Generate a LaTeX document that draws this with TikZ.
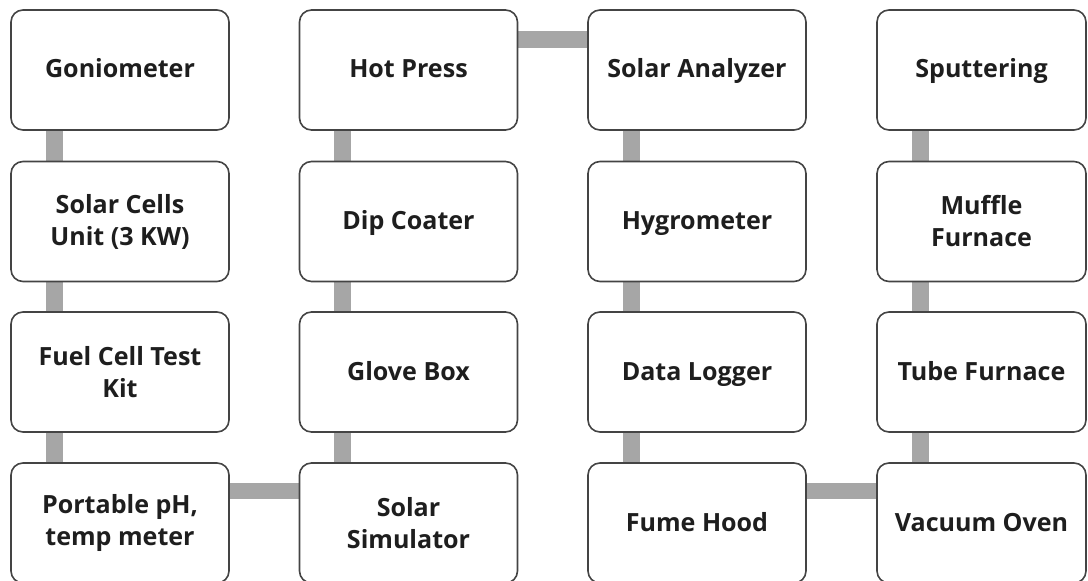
\documentclass[tikz,border=0pt]{standalone}
\usepackage{fontspec}
\setmainfont{Open Sans}
\usetikzlibrary{backgrounds}
\definecolor{boxline}{HTML}{444444}
\definecolor{linkgray}{HTML}{A6A6A6}
\definecolor{labelink}{HTML}{1E1E1E}
\tikzset{
  unit/.style={draw=boxline, line width=1.2pt, rounded corners=9pt, fill=white,
    minimum width=163.5pt, minimum height=90pt, inner sep=0pt, align=center,
    text=labelink, font=\fontsize{18.8}{24}\selectfont\bfseries},
  oneline/.style={text height=14pt, text depth=2pt},
  narrow/.style={minimum width=156.75pt},
  link/.style={draw=linkgray, line width=12.5pt}
}
\begin{document}
\begin{tikzpicture}[x=0.75pt, y=-0.75pt]
\useasboundingbox (0,0) rectangle (1088,581);

% Column 1
\node[unit, oneline] (gonio) at (120,70) {Goniometer};
\node[unit] (cells) at (120,221.5) {Solar Cells\\Unit (3 KW)};
\node[unit] (fuel) at (120,372) {Fuel Cell Test\\Kit};
\node[unit] (phmeter) at (120,523) {Portable pH,\\temp meter};

% Column 2
\node[unit, oneline] (press) at (408.5,70) {Hot Press};
\node[unit, oneline] (dip) at (408.5,221.5) {Dip Coater};
\node[unit, oneline] (glove) at (408.5,372) {Glove Box};
\node[unit] (simul) at (408.5,523) {Solar\\Simulator};

% Column 3
\node[unit, oneline] (analyz) at (697,70) {Solar Analyzer};
\node[unit, oneline] (hygro) at (697,221.5) {Hygrometer};
\node[unit, oneline] (logger) at (697,372) {Data Logger};
\node[unit, oneline] (hood) at (697,523) {Fume Hood};

% Column 4
\node[unit, oneline, narrow] (sputter) at (981.5,70) {Sputtering};
\node[unit, narrow] (muffle) at (981.5,221.5) {Muffle\\Furnace};
\node[unit, oneline, narrow] (tube) at (981.5,372) {Tube Furnace};
\node[unit, oneline, narrow] (oven) at (981.5,523) {Vacuum Oven};

% Connectors
\begin{scope}[on background layer]
\draw[link] ([xshift=33pt]gonio.south west) -- ([xshift=33pt]cells.north west);
\draw[link] ([xshift=33pt]cells.south west) -- ([xshift=33pt]fuel.north west);
\draw[link] ([xshift=33pt]fuel.south west) -- ([xshift=33pt]phmeter.north west);

\draw[link] ([xshift=33pt]press.south west) -- ([xshift=33pt]dip.north west);
\draw[link] ([xshift=33pt]dip.south west) -- ([xshift=33pt]glove.north west);
\draw[link] ([xshift=33pt]glove.south west) -- ([xshift=33pt]simul.north west);

\draw[link] ([xshift=33pt]analyz.south west) -- ([xshift=33pt]hygro.north west);
\draw[link] ([xshift=33pt]hygro.south west) -- ([xshift=33pt]logger.north west);
\draw[link] ([xshift=33pt]logger.south west) -- ([xshift=33pt]hood.north west);

\draw[link] ([xshift=33pt]sputter.south west) -- ([xshift=33pt]muffle.north west);
\draw[link] ([xshift=33pt]muffle.south west) -- ([xshift=33pt]tube.north west);
\draw[link] ([xshift=33pt]tube.south west) -- ([xshift=33pt]oven.north west);

\draw[link] ([yshift=-22.5pt]press.north east) -- ([yshift=-22.5pt]analyz.north west);
\draw[link] ([yshift=-21.5pt]phmeter.north east) -- ([yshift=-21.5pt]simul.north west);
\draw[link] ([yshift=-21.5pt]hood.north east) -- ([yshift=-21.5pt]oven.north west);
\end{scope}

\end{tikzpicture}
\end{document}
